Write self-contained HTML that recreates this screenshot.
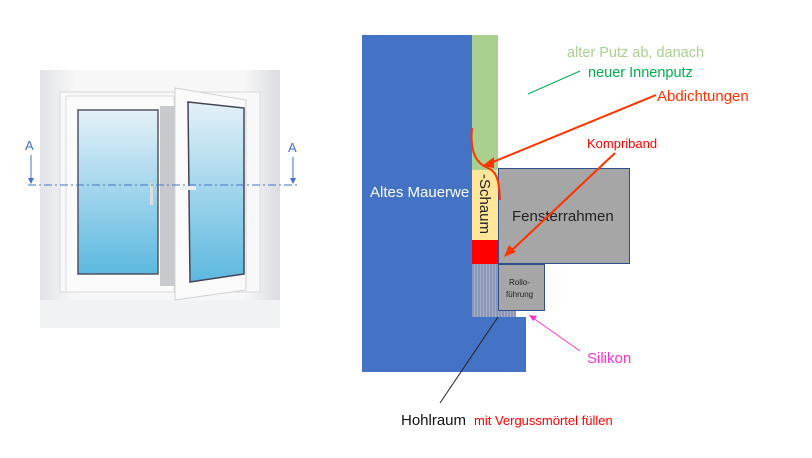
<!DOCTYPE html>
<html><head><meta charset="utf-8"><style>
body{margin:0;background:#fff;width:812px;height:453px;overflow:hidden;font-family:"Liberation Sans",sans-serif}
</style></head><body>
<svg width="812" height="453" viewBox="0 0 812 453" xmlns="http://www.w3.org/2000/svg">
<defs>
<linearGradient id="gl" x1="0" y1="0" x2="0" y2="1"><stop offset="0" stop-color="#e4f1f8"/><stop offset="1" stop-color="#5cb8df"/></linearGradient>
<linearGradient id="fr" x1="0" y1="0" x2="1" y2="0"><stop offset="0" stop-color="#e2e3e6"/><stop offset="0.15" stop-color="#f7f7f8"/><stop offset="0.85" stop-color="#f7f7f8"/><stop offset="1" stop-color="#dcdde0"/></linearGradient>
<pattern id="hatch" width="3" height="3" patternUnits="userSpaceOnUse"><rect width="3" height="3" fill="#8c97b8"/><rect width="1" height="3" fill="#a6aec8"/></pattern>
</defs>
<!-- window picture -->
<rect x="40" y="70" width="240" height="258" fill="url(#fr)"/>
<rect x="40" y="300" width="240" height="28" fill="#f1f2f3"/>
<rect x="60" y="92" width="200" height="200" fill="#f8f8f9" stroke="#d8d9dc"/>
<rect x="66" y="96" width="108" height="196" fill="#fbfbfb" stroke="#dadbde"/>
<rect x="78" y="110" width="80" height="164" fill="url(#gl)" stroke="#556" stroke-width="1.5"/>
<rect x="160" y="106" width="16" height="180" fill="#c8c9cc"/>
<polygon points="175,88 246,100 246,290 175,300" fill="#fafafa" stroke="#d0d1d4"/>
<polygon points="188,102 244,108 244,274 190,282" fill="url(#gl)" stroke="#445" stroke-width="1.5"/>
<rect x="150" y="183" width="3" height="22" fill="#ddd"/>
<rect x="180" y="186" width="16" height="4" fill="#eee"/>
<line x1="28" y1="185" x2="300" y2="185" stroke="#4472c4" stroke-width="1" stroke-dasharray="8,3,2,3"/>
<text x="25" y="150" fill="#4472c4" font-size="13">A</text>
<line x1="31" y1="155" x2="31" y2="181" stroke="#4472c4"/><polygon points="28,178 34,178 31,184" fill="#4472c4"/>
<text x="288" y="152" fill="#4472c4" font-size="13">A</text>
<line x1="293" y1="157" x2="293" y2="181" stroke="#4472c4"/><polygon points="290,178 296,178 293,184" fill="#4472c4"/>

<!-- section -->
<rect x="362" y="35" width="110" height="337" fill="#4472c4"/>
<rect x="472" y="317" width="54" height="55" fill="#4472c4"/>
<rect x="472" y="35" width="26" height="135" fill="#a9d08e"/>
<rect x="472" y="170" width="26" height="70" fill="#ffe699"/>
<rect x="472" y="240" width="26" height="24" fill="#ff0000"/>
<rect x="472" y="264" width="44" height="53" fill="url(#hatch)"/>
<rect x="516" y="311" width="10" height="6" fill="#fff"/>
<rect x="498.5" y="168.5" width="131" height="95" fill="#a6a6a6" stroke="#2f4f8f"/>
<rect x="498.5" y="264.5" width="46" height="46" fill="#a6a6a6" stroke="#2f4f8f"/>
<text x="370" y="197" fill="#fff" font-size="15">Altes Mauerwe</text>
<text x="512" y="221" fill="#222" font-size="15">Fensterrahmen</text>
<text transform="translate(480,174) rotate(90)" fill="#222" font-size="15">-Schaum</text>
<text x="509" y="285" fill="#222" font-size="8">Rollo-</text>
<text x="506" y="297" fill="#222" font-size="8">führung</text>
<!-- red curve -->
<path d="M472,128 C470,150 475,163 488,168 C497,172 499,180 500,200" fill="none" stroke="#ff3300" stroke-width="2"/>
<!-- labels -->
<text x="567" y="57" fill="#a9d08e" font-size="14.5">alter Putz ab, danach</text>
<text x="588" y="77" fill="#00b050" font-size="14.5">neuer Innenputz</text>
<line x1="580" y1="71" x2="528" y2="94" stroke="#00b050"/>
<text x="657" y="101" fill="#ff3300" font-size="15">Abdichtungen</text>
<line x1="656" y1="95" x2="488" y2="164" stroke="#ff3300" stroke-width="2"/>
<polygon points="482,166 494,157 494,168" fill="#ff3300"/>
<text x="587" y="148" fill="#ff0000" font-size="13">Kompriband</text>
<line x1="615" y1="153" x2="510" y2="252" stroke="#ff3300" stroke-width="2"/>
<polygon points="504,257 509,245 516,252" fill="#ff3300"/>
<text x="587" y="363" fill="#ff33cc" font-size="15">Silikon</text>
<line x1="580" y1="351" x2="533" y2="318" stroke="#ff33cc"/>
<polygon points="529,315 537,316 533,321" fill="#ff33cc"/>
<line x1="498" y1="317" x2="440" y2="403" stroke="#222"/>
<text x="401" y="425" fill="#111" font-size="15">Hohlraum</text>
<text x="474" y="425" fill="#ff0000" font-size="13">mit Vergussmörtel füllen</text>
</svg>
</body></html>
